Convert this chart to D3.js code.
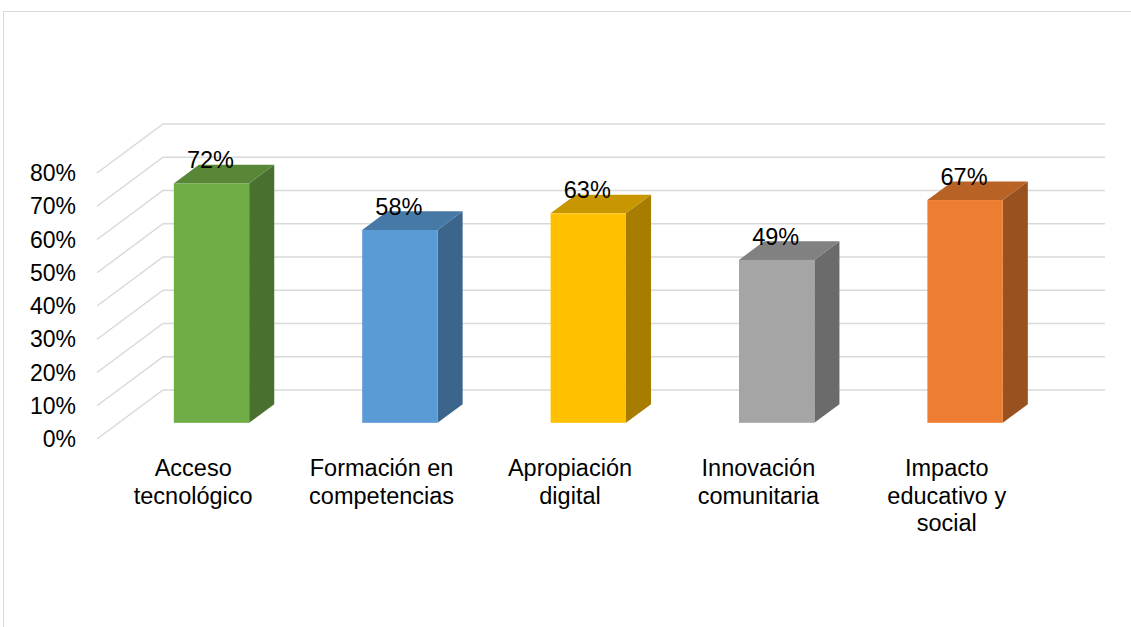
<!DOCTYPE html>
<html>
<head>
<meta charset="utf-8">
<script src="https://cdn.jsdelivr.net/npm/d3@7"></script>
<style>
  body { margin: 0; background: #fff; }
  text { font-family: Arial, "Liberation Sans", sans-serif; fill: #000; }
</style>
</head>
<body>
<svg id="chart" width="1131" height="627"></svg>
<script>
// data
const categories = [
  ['Acceso', 'tecnológico'],
  ['Formación en', 'competencias'],
  ['Apropiación', 'digital'],
  ['Innovación', 'comunitaria'],
  ['Impacto', 'educativo y', 'social']
];
const values = [0.72, 0.58, 0.63, 0.49, 0.67];
const frontColors = ['#70AD47', '#5B9BD5', '#FFC000', '#A5A5A5', '#ED7D31'];
const sideColors = ['#49702E', '#3B658A', '#A67D00', '#6B6B6B', '#9A5120'];
const topColors = ['#578737', '#4779A6', '#C79600', '#818181', '#B96226'];
const yTicks = [0, 0.1, 0.2, 0.3, 0.4, 0.5, 0.6, 0.7, 0.8];

const svg = d3.select('#chart');

// frame
svg.append('path')
  .attr('d', 'M3.5,627 L3.5,11.5 L1131,11.5')
  .attr('fill', 'none')
  .attr('stroke', '#d9d9d9')
  .attr('stroke-width', 1);

// 3d floor depth
const depthX = 66, depthY = -49;
const fFront = 0.33, fBack = 0.71;
const xRight = 1105;

const x = d3.scaleBand()
  .domain(d3.range(categories.length))
  .range([97, 1039])
  .padding(0);
const y = d3.scaleLinear().domain([0, 0.8]).range([439, 173]);
const fmt = d3.format('.0%');

// gridlines (side wall + back wall)
svg.append('g').selectAll('path')
  .data(yTicks)
  .enter()
  .append('path')
  .attr('d', d => {
    const y0 = y(d);
    return 'M' + x.range()[0] + ',' + y0 +
      ' L' + (x.range()[0] + depthX) + ',' + (y0 + depthY) +
      ' L' + xRight + ',' + (y0 + depthY);
  })
  .attr('fill', 'none')
  .attr('stroke', '#d9d9d9')
  .attr('stroke-width', 1.5);

// y labels
svg.append('g').selectAll('text')
  .data(yTicks)
  .enter()
  .append('text')
  .attr('x', 76)
  .attr('y', d => y(d))
  .attr('dy', '0.35em')
  .attr('text-anchor', 'end')
  .style('font-size', '23px')
  .text(d => fmt(d));

// bars
const barW = x.bandwidth() * 0.4;
const dx0 = depthX * fFront - 1.5, dy0 = depthY * fFront;
const ddx = depthX * (fBack - fFront), ddy = depthY * (fBack - fFront);

const bars = svg.append('g').selectAll('g')
  .data(values)
  .enter()
  .append('g');

bars.each(function(v, i) {
  const g = d3.select(this);
  const xl = x(i) + x.bandwidth() / 2 - barW / 2 + dx0;
  const xr = xl + barW;
  const yt = y(v) + dy0;
  const yb = y(0) + dy0;
  // side
  g.append('path')
    .attr('d', 'M' + xr + ',' + yt + ' L' + (xr + ddx) + ',' + (yt + ddy) +
      ' L' + (xr + ddx) + ',' + (yb + ddy) + ' L' + xr + ',' + yb + 'Z')
    .attr('fill', sideColors[i]);
  // top
  g.append('path')
    .attr('d', 'M' + xl + ',' + yt + ' L' + (xl + ddx) + ',' + (yt + ddy) +
      ' L' + (xr + ddx) + ',' + (yt + ddy) + ' L' + xr + ',' + yt + 'Z')
    .attr('fill', topColors[i]);
  // front
  g.append('rect')
    .attr('x', xl)
    .attr('y', yt)
    .attr('width', barW)
    .attr('height', yb - yt)
    .attr('fill', frontColors[i]);
  // value label
  g.append('text')
    .attr('x', x(i) + x.bandwidth() / 2 + dx0 - 1)
    .attr('y', yt - 15)
    .attr('text-anchor', 'middle')
    .style('font-size', '23.5px')
    .text(fmt(v));
});

// category labels
const cat = svg.append('g').selectAll('text')
  .data(categories)
  .enter()
  .append('text')
  .attr('x', (d, i) => x(i) + x.bandwidth() / 2 + 2)
  .attr('y', 476)
  .attr('text-anchor', 'middle')
  .style('font-size', '23.5px');
cat.selectAll('tspan')
  .data(d => d)
  .enter()
  .append('tspan')
  .attr('x', function() { return d3.select(this.parentNode).attr('x'); })
  .attr('dy', (d, j) => j === 0 ? 0 : 27.5)
  .text(d => d);
</script>
</body>
</html>
